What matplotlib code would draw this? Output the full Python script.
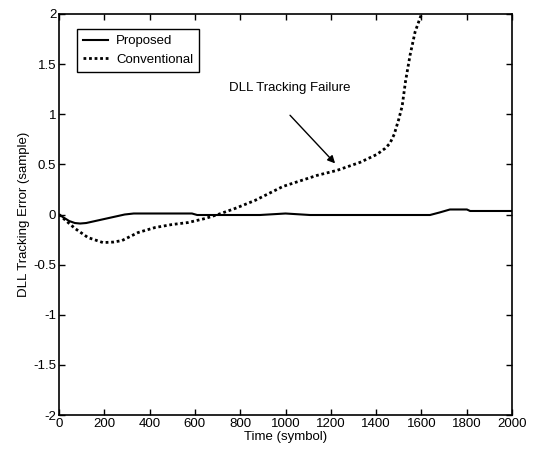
import numpy as np
import matplotlib.pyplot as plt

plt.rcParams['font.family'] = ['Liberation Sans', 'DejaVu Sans']
plt.rcParams['font.size'] = 9.5

# Proposed DLL
t_prop = np.array([0, 20, 45, 70, 93, 120, 150, 200, 250, 290, 330, 400, 587,
                   610, 887, 1000, 1108, 1300, 1500, 1638, 1680, 1726, 1801,
                   1815, 2000])
e_prop = np.array([0.0, -0.03, -0.065, -0.085, -0.09, -0.085, -0.07, -0.045,
                   -0.02, 0.0, 0.01, 0.01, 0.01, -0.005, -0.005, 0.01, -0.005,
                   -0.005, -0.005, -0.005, 0.02, 0.05, 0.05, 0.035, 0.035])

# Conventional DLL
t_conv = np.array([0, 30, 71, 128, 194, 240, 278, 349, 424, 499, 570, 645, 702,
                   777, 865, 989, 1139, 1227, 1329, 1404, 1440, 1461, 1480, 1500,
                   1515, 1530, 1550, 1572, 1594, 1610])
e_conv = np.array([0.0, -0.06, -0.14, -0.23, -0.28, -0.275, -0.26, -0.18,
                   -0.13, -0.10, -0.08, -0.04, 0.0, 0.06, 0.14, 0.28, 0.39,
                   0.44, 0.52, 0.60, 0.66, 0.71, 0.80, 0.95, 1.08, 1.33, 1.59,
                   1.82, 1.96, 2.05])

fig = plt.figure(figsize=(5.35, 4.57), dpi=100)
ax = fig.add_axes([59/535, 1-415/457, (512-59)/535, (415-14)/457])

ax.plot(t_prop, e_prop, color='black', lw=1.5, label='Proposed')
ax.plot(t_conv, e_conv, color='black', lw=2, linestyle=(0, (1, 1)), label='Conventional')

ax.set_xlim(0, 2000)
ax.set_ylim(-2, 2)
ax.set_xticks(np.arange(0, 2001, 200))
ax.set_yticks([-2, -1.5, -1, -0.5, 0, 0.5, 1, 1.5, 2])
ax.set_yticklabels(['-2', '-1.5', '-1', '-0.5', '0', '0.5', '1', '1.5', '2'])
ax.tick_params(direction='in', top=True, right=True, length=4, width=1, pad=2)
for s in ax.spines.values():
    s.set_linewidth(1.2)

ax.set_xlabel('Time (symbol)', labelpad=1)
ax.set_ylabel('DLL Tracking Error (sample)', labelpad=2)

ax.text(1020, 1.26, 'DLL Tracking Failure', ha='center', va='center')
ax.annotate('', xy=(1219, 0.51), xytext=(1020, 0.99),
            arrowprops=dict(arrowstyle='-|>', color='black', lw=1,
                            shrinkA=0, shrinkB=0, mutation_scale=11))

leg = ax.legend(loc='upper left', bbox_to_anchor=(0.04, 0.962), fancybox=False,
                edgecolor='black', framealpha=1, borderpad=0.45, handlelength=1.9,
                handletextpad=0.6, labelspacing=0.45, borderaxespad=0)
leg.get_frame().set_linewidth(1)

fig.savefig('out.png', dpi=100)
